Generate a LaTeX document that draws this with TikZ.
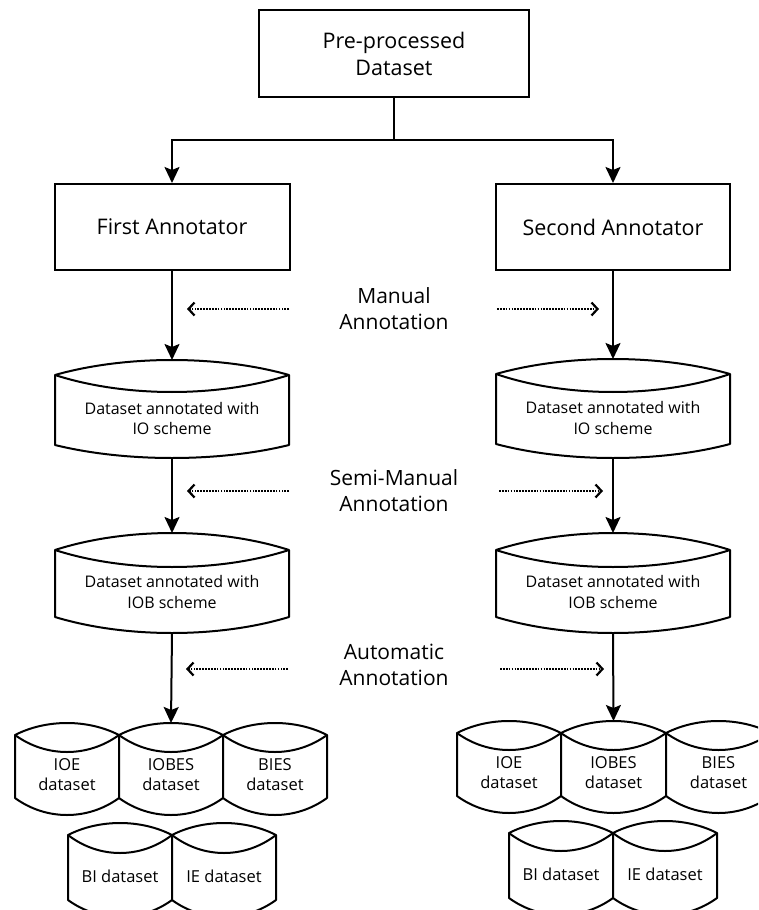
\documentclass[tikz,border=0pt]{standalone}
\usepackage{fontspec}
\setmainfont{Open Sans}
\usetikzlibrary{arrows.meta}
\tikzset{
  shp/.style={draw=black, line width=2pt, line join=round},
  bigbox/.style={draw=black, line width=2pt, align=center, font=\fontsize{21.5}{27}\selectfont, inner sep=0pt},
  lbl/.style={align=center, font=\fontsize{21}{26}\selectfont, inner sep=0pt},
  dtxt/.style={align=center, font=\fontsize{16}{20.5}\selectfont, inner sep=0pt},
  stxt/.style={align=center, font=\fontsize{16.5}{20}\selectfont, inner sep=0pt},
  curtxt/.style={dtxt},
  conn/.style={draw=black, line width=2pt},
  arr/.style={conn, -{Stealth[length=16pt,width=15pt,inset=3pt]}},
  dotarr/.style={draw=black, line width=2.3pt, dash pattern=on 1.7pt off 1.2pt, -{Straight Barb[length=6pt,width=13pt,line width=2.2pt]}}
}
% name, x, width, top-corner y, side height, up, down, bottom dip, text
\newcommand\dshape[9]{%
  \draw[shp,fill=white] (#2,#4) .. controls +({0.3*#3},{-1.333*#6}) and +({-0.3*#3},{-1.333*#6}) .. ({#2+#3},#4)
     -- ({#2+#3},{#4+#5}) .. controls +({-0.3*#3},{1.333*#8}) and +({0.3*#3},{1.333*#8}) .. (#2,{#4+#5}) -- cycle;
  \draw[shp] (#2,#4) .. controls +({0.3*#3},{1.333*#7}) and +({-0.3*#3},{1.333*#7}) .. ({#2+#3},#4);
  \coordinate (#1-t) at ({#2+0.5*#3},{#4-#6});
  \coordinate (#1-b) at ({#2+0.5*#3},{#4+#5+#8});
  \node[curtxt] (#1) at ({#2+0.5*#3},{#4+#7+(#5-#7)/2}) {#9};
}
\begin{document}
\begin{tikzpicture}[x=1pt,y=-1pt]
\useasboundingbox (0,0) rectangle (758,910);
\clip (0,0) rectangle (758,910);
\fill[white] (0,0) rectangle (758,910);

% top
\node[bigbox, minimum width=270pt, minimum height=87pt] (pre) at (394,53.5) {Pre-processed\\Dataset};
\node[bigbox, minimum width=235pt, minimum height=86pt] (fa) at (172,227) {First Annotator};
\node[bigbox, minimum width=234pt, minimum height=86pt] (sa) at (613,227) {Second Annotator};

\coordinate (split) at (394,140);
\draw[conn] (pre.south) -- (split);
\draw[arr] (split) -| (fa.north);
\draw[arr] (split) -| (sa.north);

% dataset shapes
\tikzset{curtxt/.style={dtxt}}
\dshape{io1}{55}{234}{375}{70}{15}{17}{13}{Dataset annotated with\\IO scheme}
\dshape{io2}{496}{234}{374}{70}{15}{18}{14}{Dataset annotated with\\IO scheme}
\dshape{iob1}{55}{234}{550}{67}{17}{17}{16}{Dataset annotated with\\IOB scheme}
\dshape{iob2}{496}{234}{550}{67}{17}{17}{16}{Dataset annotated with\\IOB scheme}

% small datasets
\tikzset{curtxt/.style={stxt}}
\dshape{ioe1}{15}{104}{735}{63}{12}{17}{17}{IOE\\dataset}
\dshape{iobes1}{119}{104}{735}{63}{12}{17}{17}{IOBES\\dataset}
\dshape{bies1}{223}{104}{735}{63}{12}{17}{17}{BIES\\dataset}
\dshape{bi1}{68}{104}{835}{65}{12}{18}{17}{BI dataset}
\dshape{ie1}{172}{104}{835}{65}{12}{18}{17}{IE dataset}

\dshape{ioe2}{457}{104}{733}{63}{12}{17}{17}{IOE\\dataset}
\dshape{iobes2}{561}{105}{733}{63}{12}{17}{17}{IOBES\\dataset}
\dshape{bies2}{666}{105}{733}{63}{12}{17}{17}{BIES\\dataset}
\dshape{bi2}{509}{104}{833}{65}{12}{18}{17}{BI dataset}
\dshape{ie2}{613}{104}{833}{65}{12}{18}{17}{IE dataset}

% vertical flow arrows
\draw[arr] (fa.south) -- (io1-t);
\draw[arr] (sa.south) -- (io2-t);
\draw[arr] (io1-b) -- (iob1-t);
\draw[arr] (io2-b) -- (iob2-t);
\draw[arr] (iob1-b) -- (iobes1-t);
\draw[arr] (iob2-b) -- (iobes2-t);

% annotation labels
\node[lbl] (man) at (394,309) {Manual\\Annotation};
\node[lbl] (semi) at (394,491) {Semi-Manual\\Annotation};
\node[lbl] (auto) at (394,665) {Automatic\\Annotation};

\coordinate (m1a) at (289,309); \coordinate (m1b) at (187,309);
\coordinate (m2a) at (497,309); \coordinate (m2b) at (599,309);
\coordinate (s1a) at (289,491); \coordinate (s1b) at (187,491);
\coordinate (s2a) at (499,491); \coordinate (s2b) at (603,491);
\coordinate (a1a) at (288,669); \coordinate (a1b) at (186,669);
\coordinate (a2a) at (500,669); \coordinate (a2b) at (604,669);
\draw[dotarr] (m1a) -- (m1b);
\draw[dotarr] (m2a) -- (m2b);
\draw[dotarr] (s1a) -- (s1b);
\draw[dotarr] (s2a) -- (s2b);
\draw[dotarr] (a1a) -- (a1b);
\draw[dotarr] (a2a) -- (a2b);
\end{tikzpicture}
\end{document}
